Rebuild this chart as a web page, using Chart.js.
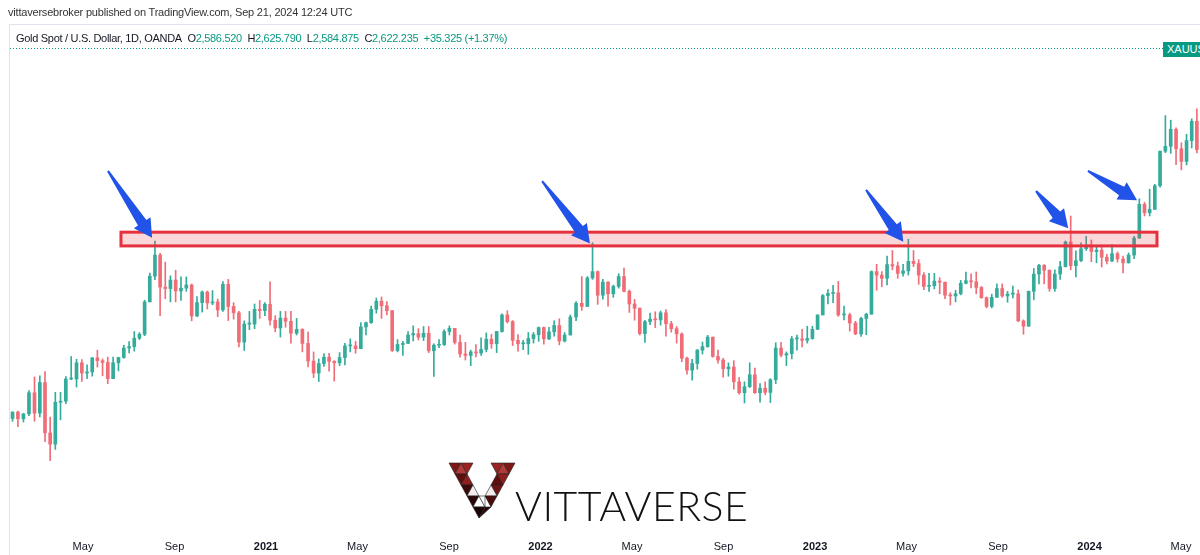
<!DOCTYPE html>
<html>
<head>
<meta charset="utf-8">
<script src="https://cdn.jsdelivr.net/npm/chart.js@4.4.1/dist/chart.umd.min.js"></script>
<style>
  html, body { margin: 0; padding: 0; background: #fff; overflow: hidden; }
  #wrap { position: relative; width: 1200px; height: 555px; overflow: hidden; font-family: "Liberation Sans", Arial, sans-serif; }
  #chart { position: absolute; left: 0; top: 0; }
  #pane { position: absolute; left: 9px; top: 24px; width: 1200px; height: 600px; border-left: 1px solid #e0e3eb; border-top: 1px solid #e0e3eb; pointer-events: none; }
  #pub { position: absolute; left: 8px; top: 6px; font-size: 11px; letter-spacing: -0.2px; color: #333; white-space: nowrap; }
  #legend { position: absolute; left: 16px; top: 32px; font-size: 11px; letter-spacing: -0.3px; color: #131722; white-space: nowrap; }
  #legend .v { color: #089981; }
  #sym { position: absolute; left: 1163px; top: 42px; height: 15px; line-height: 15px; padding: 0 4px; background: #089981; color: #fff; font-size: 11px; white-space: nowrap; }
  #logo { position: absolute; left: 446px; top: 460px; }
  #brand { position: absolute; left: 515px; top: 481px; font-family: Lato, "Open Sans", sans-serif; font-weight: 300; font-size: 41px; letter-spacing: 0.5px; color: #111; white-space: nowrap; }
</style>
</head>
<body>
<div id="wrap">
  <canvas id="chart" width="1200" height="555"></canvas>
  <div id="pane"></div>
  <div id="pub">vittaversebroker published on TradingView.com, Sep 21, 2024 12:24 UTC</div>
  <div id="legend">Gold Spot / U.S. Dollar, 1D, OANDA&nbsp; O<span class="v">2,586.520</span>&nbsp; H<span class="v">2,625.790</span>&nbsp; L<span class="v">2,584.875</span>&nbsp; C<span class="v">2,622.235</span>&nbsp; <span class="v">+35.325 (+1.37%)</span></div>
  <div id="sym">XAUUSD</div>
  <canvas id="logo" width="72" height="64"></canvas>
  <div id="brand">VITTAVERSE</div>
</div>
<script>
// weekly candles, first week starts Mon 27 Jan 2020
const firstWeek = "2020-01-27";

const opens = [
  1571,1589,1570,1584,1644,1586,1673,1530,1498,1617,1620,1683,1683,1729,1700,1703,1743,1735,1730,1684,1729,1744,1771,1775,1799,1810,1902,1975,2035,1944,1940,1964,1933,1941,1950,1862,1900,1930,1899,1902,1879,1952,1889,1871,1788,1839,1839,1881,1877,
  1895,1850,1828,1856,1847,1813,1824,1784,1734,1700,1727,1745,1733,1729,1744,1777,1777,1769,1831,1843,1881,1904,1891,1877,1764,1781,1784,1808,1812,1802,1813,1763,1779,1781,1818,1827,1787,1754,1750,1760,1757,1767,1796,1783,1818,1865,1846,1793,1783,1783,1798,1809,
  1829,1797,1817,1835,1791,1808,1859,1898,1889,1970,1988,1921,1958,1925,1946,1974,1932,1896,1884,1812,1846,1853,1851,1871,1840,1826,1811,1742,1708,1727,1765,1775,1802,1747,1737,1712,1717,1675,1644,1661,1695,1644,1657,1645,1681,1771,1751,1755,1797,1797,1793,1798,
  1824,1865,1920,1926,1928,1865,1865,1842,1811,1855,1867,1988,1978,1969,2008,2004,1983,1990,2017,2011,1978,1946,1948,1961,1958,1921,1919,1925,1955,1962,1959,1943,1914,1889,1915,1940,1919,1924,1925,1848,1833,1932,1981,2006,1992,1940,1981,2002,2072,2005,2019,2053,
  2063,2045,2049,2029,2018,2039,2024,2013,2035,2083,2179,2155,2165,2232,2330,2344,2392,2337,2301,2360,2415
];
const highs = [
  1590,1592,1585,1650,1689,1692,1704,1575,1645,1645,1690,1747,1739,1738,1723,1744,1765,1740,1745,1745,1745,1779,1789,1818,1815,1907,1984,2075,2040,2015,1976,1992,1973,1973,1953,1917,1933,1933,1934,1910,1960,1966,1900,1875,1848,1875,1896,1906,1900,
  1959,1863,1875,1875,1875,1855,1826,1816,1760,1740,1755,1756,1735,1758,1784,1797,1790,1843,1845,1890,1913,1916,1903,1878,1795,1790,1818,1834,1826,1832,1832,1783,1795,1823,1834,1827,1808,1787,1765,1781,1800,1814,1810,1818,1868,1877,1849,1809,1793,1815,1815,1831,
  1831,1830,1848,1854,1815,1865,1903,1974,1974,2070,1990,1966,1960,1950,1982,1998,1936,1909,1885,1850,1870,1874,1876,1880,1847,1832,1814,1745,1739,1767,1788,1807,1802,1765,1742,1729,1735,1688,1675,1729,1714,1670,1675,1684,1786,1787,1760,1804,1808,1824,1833,1833,
  1865,1923,1937,1949,1960,1890,1870,1847,1858,1870,1990,2009,1988,2032,2048,2015,2009,2080,2048,2022,1985,1983,1983,1971,1958,1928,1935,1963,1987,1982,1987,1946,1916,1924,1953,1953,1932,1947,1936,1851,1933,1997,2009,2008,1993,1993,2017,2075,2146,2047,2070,2088,
  2078,2062,2062,2037,2065,2044,2032,2041,2088,2195,2185,2222,2236,2330,2431,2418,2396,2354,2378,2422,2450
];
const lows = [
  1563,1548,1561,1579,1563,1575,1505,1451,1483,1567,1613,1681,1660,1676,1684,1691,1717,1692,1670,1684,1706,1742,1757,1762,1795,1806,1902,1965,1863,1911,1902,1902,1906,1932,1848,1860,1873,1882,1894,1860,1875,1849,1853,1774,1764,1823,1826,1855,1863,
  1836,1817,1802,1830,1785,1808,1760,1717,1687,1676,1719,1705,1677,1721,1723,1760,1756,1769,1808,1841,1870,1855,1865,1761,1760,1750,1784,1791,1794,1792,1758,1690,1772,1778,1808,1782,1745,1737,1721,1746,1750,1760,1770,1758,1816,1842,1778,1762,1766,1753,1785,1790,
  1782,1795,1805,1780,1788,1808,1849,1878,1889,1966,1895,1910,1890,1915,1941,1930,1872,1850,1808,1787,1837,1829,1836,1805,1816,1785,1732,1697,1680,1711,1754,1773,1745,1728,1688,1691,1654,1640,1615,1659,1642,1617,1638,1616,1670,1746,1721,1740,1765,1774,1785,1796,
  1824,1865,1896,1900,1861,1851,1819,1809,1804,1809,1867,1935,1945,1950,1993,1969,1975,1978,2002,1952,1937,1932,1939,1925,1911,1893,1902,1922,1953,1942,1925,1912,1885,1885,1915,1915,1901,1913,1846,1810,1833,1908,1953,1953,1932,1932,1966,2001,1993,1973,2016,2048,
  2016,2013,2001,2010,2016,2015,1984,2012,2025,2083,2146,2146,2164,2228,2326,2324,2292,2277,2291,2339,2325
];
const closes = [
  1589,1570,1584,1644,1586,1673,1530,1498,1617,1620,1683,1683,1729,1700,1703,1743,1735,1730,1684,1729,1744,1771,1775,1799,1810,1902,1975,2035,1944,1940,1964,1933,1941,1950,1862,1900,1930,1899,1902,1879,1952,1889,1871,1788,1839,1839,1881,1877,1895,
  1850,1828,1856,1847,1813,1824,1784,1734,1700,1727,1745,1733,1729,1744,1777,1777,1769,1831,1843,1881,1904,1891,1877,1764,1781,1784,1808,1812,1802,1813,1763,1779,1781,1818,1827,1787,1754,1750,1760,1757,1767,1796,1783,1818,1865,1846,1793,1783,1783,1798,1809,1829,
  1797,1817,1835,1791,1808,1859,1898,1889,1970,1988,1921,1958,1925,1946,1974,1932,1896,1884,1812,1846,1853,1851,1871,1840,1826,1811,1742,1708,1727,1765,1775,1802,1747,1737,1712,1717,1675,1644,1661,1695,1644,1657,1645,1681,1771,1751,1755,1797,1797,1793,1798,1824,
  1865,1920,1926,1928,1865,1865,1842,1811,1855,1867,1988,1978,1969,2008,2004,1983,1990,2017,2011,1978,1946,1948,1961,1958,1921,1919,1925,1955,1962,1959,1943,1914,1889,1915,1940,1919,1924,1925,1848,1833,1932,1981,2006,1992,1940,1981,2002,2072,2005,2019,2053,2063,
  2045,2049,2029,2018,2039,2024,2013,2035,2083,2179,2155,2165,2232,2330,2344,2392,2337,2301,2360,2415,2334
];

// time axis, in months counted from Jan 2020
const tickMonths = [4, 8, 12, 16, 20, 24, 28, 32, 36, 40, 44, 48, 52];
const tickLabels = ["May", "Sep", "2021", "May", "Sep", "2022", "May", "Sep", "2023", "May", "Sep", "2024", "May"];

// marked resistance zone and arrows (month, price)
const zoneFrom = 5.66, zoneTo = 50.95;
const zoneTop = 2100, zoneBottom = 2061;
const arrows = [
  [5.09, 2274, 7.02, 2084],
  [24.07, 2245, 26.16, 2068],
  [38.23, 2220, 39.86, 2073],
  [45.66, 2217, 47.07, 2111],
  [47.93, 2274, 50.08, 2191]
];
const lastPrice = 2622.235;

const UP = "#34ab9b", DOWN = "#f06d78";

function weekToMonth(i) {
  const d = new Date(Date.parse(firstWeek + "T00:00:00Z") + (7 * i + 2) * 864e5);
  const y = d.getUTCFullYear(), mo = d.getUTCMonth();
  const dim = new Date(Date.UTC(y, mo + 1, 0)).getUTCDate();
  return (y - 2020) * 12 + mo + (d.getUTCDate() - 0.5) / dim;
}

const xs = closes.map((c, i) => weekToMonth(i));
const colors = closes.map((c, i) => (c >= opens[i] ? UP : DOWN));

const overlay = {
  id: "overlay",
  afterDatasetsDraw(chart) {
    const { ctx, scales, chartArea } = chart;
    const x = scales.x, y = scales.y;
    ctx.save();

    // last price dotted line
    const py = Math.round(y.getPixelForValue(lastPrice)) + 0.5;
    ctx.strokeStyle = "#089981";
    ctx.lineWidth = 1;
    ctx.setLineDash([1, 2]);
    ctx.beginPath();
    ctx.moveTo(chartArea.left, py);
    ctx.lineTo(chartArea.right, py);
    ctx.stroke();
    ctx.setLineDash([]);

    // zone box
    const x1 = x.getPixelForValue(zoneFrom), x2 = x.getPixelForValue(zoneTo);
    const y1 = y.getPixelForValue(zoneTop), y2 = y.getPixelForValue(zoneBottom);
    ctx.fillStyle = "rgba(242, 54, 69, 0.2)";
    ctx.fillRect(x1, y1, x2 - x1, y2 - y1);
    ctx.strokeStyle = "#e5313e";
    ctx.lineWidth = 3;
    ctx.strokeRect(x1, y1, x2 - x1, y2 - y1);

    // arrow markers
    ctx.fillStyle = "#2153e8";
    arrows.forEach(([m0, p0, m1, p1]) => {
      const tx = x.getPixelForValue(m0), ty = y.getPixelForValue(p0);
      const hx = x.getPixelForValue(m1), hy = y.getPixelForValue(p1);
      const len = Math.hypot(hx - tx, hy - ty);
      const ux = (hx - tx) / len, uy = (hy - ty) / len;
      const nx = -uy, ny = ux;
      const headLen = 18, headW = 10, shaftW = 5;
      const bx = hx - ux * headLen, by = hy - uy * headLen;
      ctx.beginPath();
      ctx.moveTo(tx + nx * 1, ty + ny * 1);
      ctx.lineTo(bx + nx * shaftW, by + ny * shaftW);
      ctx.lineTo(bx + nx * headW, by + ny * headW);
      ctx.lineTo(hx, hy);
      ctx.lineTo(bx - nx * headW, by - ny * headW);
      ctx.lineTo(bx - nx * shaftW, by - ny * shaftW);
      ctx.lineTo(tx - nx * 1, ty - ny * 1);
      ctx.closePath();
      ctx.fill();
    });
    ctx.restore();
  }
};

new Chart(document.getElementById("chart"), {
  type: "bar",
  data: {
    datasets: [
      {
        label: "body",
        data: xs.map((v, i) => ({ x: v, y: [opens[i], closes[i]] })),
        backgroundColor: colors,
        barThickness: 3,
        minBarLength: 1,
        grouped: false,
        order: 0
      },
      {
        label: "wick",
        data: xs.map((v, i) => ({ x: v, y: [lows[i], highs[i]] })),
        backgroundColor: colors,
        barThickness: 1,
        grouped: false,
        order: 1
      }
    ]
  },
  options: {
    responsive: false,
    animation: false,
    devicePixelRatio: 1,
    layout: { padding: { left: 10, top: 24, right: 0, bottom: 0 } },
    plugins: { legend: { display: false }, tooltip: { enabled: false } },
    scales: {
      x: {
        type: "linear",
        min: 0.8087,
        max: 52.83,
        offset: false,
        grid: { display: false, drawTicks: false },
        border: { display: false },
        afterFit: (scale) => { scale.height = 20; },
        afterBuildTicks: (scale) => { scale.ticks = tickMonths.map((v) => ({ value: v })); },
        ticks: {
          autoSkip: false,
          maxRotation: 0,
          padding: 5,
          color: "#131722",
          font: (c) => ({ family: "'Liberation Sans', Arial, sans-serif", size: 11, weight: (tickLabels[c.index] || "").length === 4 ? "bold" : "normal" }),
          callback: (value, index) => tickLabels[index]
        }
      },
      y: {
        display: false,
        min: 1240,
        max: 2691.2
      }
    }
  },
  plugins: [overlay]
});

// logo mark
(function () {
  const g = document.getElementById("logo").getContext("2d");
  const tris = [
    [[3, 3], [15, 3], [9, 14], "#7d1616"],
    [[15, 3], [27, 3], [21, 14], "#9b2323"],
    [[9, 14], [21, 14], [15, 3], "#b23a3a"],
    [[9, 14], [21, 14], [15, 25], "#5e0f0f"],
    [[21, 14], [27, 25], [15, 25], "#8f1e1e"],
    [[15, 25], [27, 25], [21, 36], "#3d0a0a"],
    [[27, 25], [33, 36], [21, 36], "#f5eded"],
    [[21, 36], [33, 36], [27, 47], "#2a0707"],
    [[33, 36], [39, 47], [27, 47], "#ffffff"],
    [[27, 47], [39, 47], [33, 58], "#1a0505"],
    [[45, 3], [57, 3], [51, 14], "#9b2323"],
    [[57, 3], [69, 3], [63, 14], "#7d1616"],
    [[51, 14], [63, 14], [57, 3], "#b23a3a"],
    [[51, 14], [63, 14], [57, 25], "#8f1e1e"],
    [[45, 25], [51, 14], [57, 25], "#5e0f0f"],
    [[45, 25], [57, 25], [51, 36], "#6e1414"],
    [[39, 36], [45, 25], [51, 36], "#f5eded"],
    [[39, 36], [51, 36], [45, 47], "#4a0c0c"],
    [[33, 36], [39, 36], [39, 47], "#ffffff"],
    [[39, 47], [45, 47], [33, 58], "#2a0707"]
  ];
  tris.forEach(([a, b, c, col]) => {
    g.beginPath();
    g.moveTo(a[0], a[1]);
    g.lineTo(b[0], b[1]);
    g.lineTo(c[0], c[1]);
    g.closePath();
    g.fillStyle = col;
    g.fill();
    g.strokeStyle = "#222";
    g.lineWidth = 0.6;
    g.stroke();
  });
})();
</script>
</body>
</html>
